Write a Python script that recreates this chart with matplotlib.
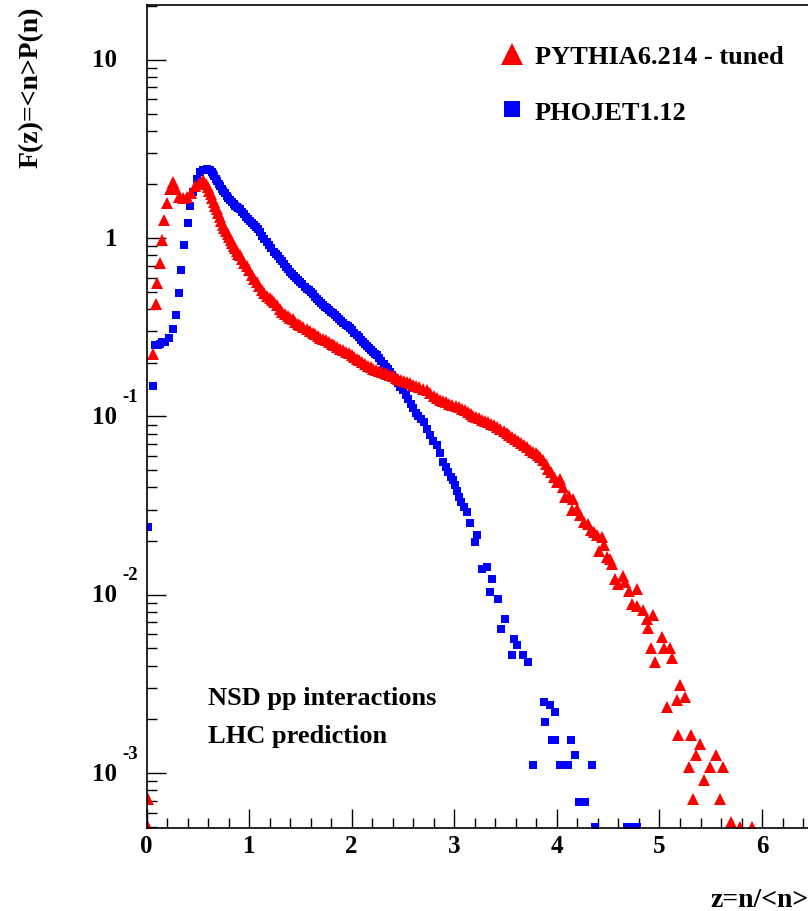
import matplotlib
matplotlib.use("Agg")
import matplotlib.pyplot as plt
from matplotlib.ticker import MultipleLocator, LogLocator, NullFormatter
from matplotlib.transforms import offset_copy

plt.rcParams["font.family"] = ["Liberation Serif", "DejaVu Serif"]
plt.rcParams["font.weight"] = "bold"

# PYTHIA6.214 - tuned (red triangles)
pythia_z = [
    0.015, 0.015, 0.066, 0.09, 0.105, 0.13, 0.154, 0.173, 0.197, 0.229,
    0.261, 0.288, 0.32, 0.359, 0.392, 0.43, 0.47, 0.51, 0.55, 0.58,
    0.595, 0.61, 0.625, 0.64, 0.655, 0.67, 0.685, 0.70, 0.715, 0.73,
    0.745, 0.76, 0.775, 0.79, 0.805, 0.82, 0.835, 0.85, 0.865, 0.88,
    0.895, 0.91, 0.93, 0.95, 0.975, 1.0, 1.025, 1.05, 1.075, 1.10,
    1.125, 1.15, 1.175, 1.20, 1.22, 1.24, 1.27, 1.30, 1.325, 1.35,
    1.375, 1.40, 1.425, 1.45, 1.475, 1.50, 1.53, 1.56, 1.59, 1.62,
    1.645, 1.67, 1.695, 1.72, 1.75, 1.78, 1.805, 1.83, 1.86, 1.89,
    1.915, 1.94, 1.97, 2.0, 2.025, 2.05, 2.075, 2.10, 2.13, 2.16,
    2.185, 2.21, 2.24, 2.27, 2.295, 2.32, 2.345, 2.37, 2.40, 2.43,
    2.455, 2.48, 2.51, 2.54, 2.57, 2.60, 2.63, 2.66, 2.695, 2.73,
    2.765, 2.80, 2.83, 2.86, 2.89, 2.92, 2.95, 2.98, 3.015, 3.05,
    3.075, 3.10, 3.13, 3.16, 3.185, 3.21, 3.24, 3.27, 3.30, 3.33,
    3.36, 3.39, 3.42, 3.45, 3.48, 3.51, 3.535, 3.56, 3.59, 3.62,
    3.65, 3.68, 3.71, 3.74, 3.77, 3.80, 3.82, 3.84, 3.865, 3.89,
    3.915, 3.94, 3.97, 4.0, 4.03, 4.06, 4.08, 4.12, 4.16, 4.15,
    4.20, 4.23, 4.26, 4.30, 4.33, 4.36, 4.39, 4.44, 4.46, 4.41,
    4.49, 4.52, 4.54, 4.57, 4.64, 4.60, 4.66, 4.70, 4.78, 4.73,
    4.78, 4.84, 4.94, 4.875, 4.89, 4.92, 4.956, 5.02, 5.04, 5.10,
    5.12, 5.20, 5.17, 5.25, 5.07, 5.18, 5.31, 5.39, 5.36, 5.55,
    5.29, 5.49, 5.62, 5.43, 5.33, 5.59, 5.70, 5.78, 5.90,
]
pythia_f = [
    0.00072, 0.0005, 0.225, 0.425, 0.56, 0.73, 0.97, 1.27, 1.58, 1.88,
    2.07, 1.88, 1.70, 1.67, 1.70, 1.80, 1.95, 2.05, 2.12, 2.0,
    1.93, 1.85, 1.76, 1.68, 1.60, 1.52, 1.45, 1.38, 1.31, 1.25,
    1.19, 1.14, 1.10, 1.05, 1.01, 0.97, 0.935, 0.90, 0.875, 0.85,
    0.82, 0.80, 0.765, 0.73, 0.70, 0.66, 0.625, 0.59, 0.565, 0.54,
    0.515, 0.49, 0.475, 0.46, 0.45, 0.44, 0.42, 0.40, 0.385, 0.375,
    0.365, 0.355, 0.35, 0.34, 0.33, 0.325, 0.318, 0.31, 0.302, 0.295,
    0.29, 0.283, 0.277, 0.273, 0.268, 0.262, 0.256, 0.25, 0.245, 0.24,
    0.235, 0.23, 0.226, 0.22, 0.215, 0.211, 0.207, 0.203, 0.198, 0.193,
    0.19, 0.185, 0.183, 0.18, 0.177, 0.175, 0.172, 0.17, 0.168, 0.165,
    0.162, 0.16, 0.158, 0.156, 0.154, 0.151, 0.149, 0.146, 0.143, 0.14,
    0.135, 0.131, 0.127, 0.123, 0.122, 0.12, 0.118, 0.116, 0.115, 0.113,
    0.11, 0.108, 0.106, 0.103, 0.101, 0.099, 0.0975, 0.096, 0.0945, 0.093,
    0.091, 0.089, 0.087, 0.0855, 0.083, 0.081, 0.079, 0.077, 0.075, 0.073,
    0.071, 0.069, 0.067, 0.065, 0.0635, 0.062, 0.0605, 0.0593, 0.057, 0.0543,
    0.051, 0.0488, 0.046, 0.0429, 0.0448, 0.040, 0.0354, 0.036, 0.0346, 0.0297,
    0.0304, 0.028, 0.0256, 0.025, 0.023, 0.0225, 0.0215, 0.0211, 0.0189, 0.0177,
    0.0163, 0.0158, 0.0149, 0.0123, 0.0128, 0.0115, 0.0118, 0.0105, 0.0108, 0.0089,
    0.0087, 0.0082, 0.0077, 0.0073, 0.0065, 0.0050, 0.0042, 0.0058, 0.0050, 0.0050,
    0.0044, 0.0031, 0.00256, 0.00267, 0.00235, 0.00163, 0.00163, 0.00146, 0.00126, 0.00126,
    0.00108, 0.00108, 0.00108, 0.00091, 0.00072, 0.00072, 0.00053, 0.0005, 0.0005,
]

# PHOJET1.12 (blue squares)
phojet_z = [
    0.015, 0.06, 0.083, 0.11, 0.132, 0.155, 0.18, 0.222, 0.255, 0.288,
    0.317, 0.339, 0.368, 0.407, 0.424, 0.456, 0.489, 0.52, 0.555, 0.587,
    0.615, 0.635, 0.648, 0.66, 0.675, 0.69, 0.705, 0.72, 0.735, 0.75,
    0.765, 0.78, 0.795, 0.81, 0.83, 0.85, 0.865, 0.88, 0.895, 0.91,
    0.93, 0.95, 0.97, 0.99, 1.01, 1.03, 1.05, 1.07, 1.09, 1.11,
    1.13, 1.15, 1.17, 1.19, 1.215, 1.24, 1.26, 1.28, 1.30, 1.32,
    1.34, 1.36, 1.38, 1.40, 1.42, 1.44, 1.46, 1.48, 1.50, 1.52,
    1.54, 1.56, 1.58, 1.60, 1.62, 1.64, 1.66, 1.68, 1.70, 1.72,
    1.74, 1.76, 1.78, 1.80, 1.82, 1.84, 1.86, 1.88, 1.90, 1.92,
    1.94, 1.96, 1.98, 2.0, 2.025, 2.05, 2.07, 2.09, 2.11, 2.13,
    2.15, 2.17, 2.19, 2.21, 2.23, 2.25, 2.27, 2.29, 2.31, 2.33,
    2.35, 2.37, 2.39, 2.41, 2.43, 2.45, 2.475, 2.50, 2.525, 2.55,
    2.575, 2.60, 2.625, 2.65, 2.675, 2.70, 2.73, 2.76, 2.795, 2.83,
    2.86, 2.89, 2.915, 2.94, 2.965, 2.99, 3.01, 3.03, 3.05, 3.07,
    3.095, 3.12, 3.15, 3.20, 3.22, 3.27, 3.32, 3.35, 3.37, 3.43,
    3.46, 3.49, 3.56, 3.58, 3.61, 3.67, 3.72, 3.77, 3.87, 3.88,
    3.93, 3.95, 3.98, 3.98, 4.03, 4.11, 4.14, 4.18, 4.22, 4.27,
    4.34, 4.37, 4.68, 4.73, 4.78,
]
phojet_f = [
    0.024, 0.148, 0.25, 0.252, 0.256, 0.26, 0.263, 0.277, 0.31, 0.372,
    0.494, 0.66, 0.92, 1.22, 1.51, 1.82, 2.16, 2.35, 2.42, 2.45,
    2.42, 2.35, 2.29, 2.22, 2.15, 2.08, 2.01, 1.95, 1.89, 1.83,
    1.78, 1.73, 1.68, 1.64, 1.60, 1.55, 1.52, 1.50, 1.475, 1.45,
    1.40, 1.36, 1.32, 1.28, 1.25, 1.22, 1.19, 1.16, 1.12, 1.08,
    1.03, 0.99, 0.955, 0.92, 0.88, 0.84, 0.815, 0.79, 0.765, 0.74,
    0.715, 0.69, 0.67, 0.646, 0.63, 0.615, 0.60, 0.58, 0.565, 0.55,
    0.535, 0.521, 0.51, 0.496, 0.483, 0.47, 0.458, 0.445, 0.432, 0.42,
    0.412, 0.405, 0.395, 0.385, 0.378, 0.37, 0.36, 0.352, 0.343, 0.335,
    0.327, 0.32, 0.312, 0.305, 0.295, 0.285, 0.278, 0.27, 0.262, 0.255,
    0.248, 0.242, 0.236, 0.23, 0.225, 0.22, 0.212, 0.205, 0.197, 0.19,
    0.184, 0.178, 0.171, 0.165, 0.16, 0.155, 0.147, 0.14, 0.132, 0.125,
    0.118, 0.111, 0.105, 0.10, 0.097, 0.093, 0.085, 0.0783, 0.073, 0.0688,
    0.062, 0.0558, 0.052, 0.049, 0.046, 0.0438, 0.041, 0.038, 0.0355, 0.0331,
    0.031, 0.0291, 0.0251, 0.0198, 0.0215, 0.014, 0.0143, 0.0104, 0.0123, 0.0095,
    0.00646, 0.00735, 0.00457, 0.00568, 0.0052, 0.00457, 0.0042, 0.00111, 0.0025, 0.00194,
    0.0024, 0.00153, 0.0022, 0.00153, 0.00111, 0.00111, 0.00153, 0.00126, 0.00069, 0.00069,
    0.00111, 0.0005, 0.0005, 0.0005, 0.0005,
]

y_ticks = [1e-3, 1e-2, 1e-1, 1, 10]
y_bases = ["10", "10", "10", "1", "10"]
y_exps = ["-3", "-2", "-1", "", ""]
x_ticks = [0, 1, 2, 3, 4, 5, 6]

W, H = 808, 912
fig = plt.figure(figsize=(W / 100, H / 100), dpi=100)
ax = fig.add_axes([146.5 / W, (H - 829) / H, 7 * 102.6 / W, 823 / H])

ax.plot(phojet_z, phojet_f, "s", color="#0000ff", ms=6.4, mew=0,
        label="PHOJET1.12")
ax.plot(pythia_z, pythia_f, "^", color="#ff0000", ms=8, mew=0,
        label="PYTHIA6.214 - tuned")

ax.set_yscale("log")
ax.set_xlim(0, 7)
ax.set_ylim(4.92e-4, 20.3)

for s in ["left", "bottom", "top", "right"]:
    ax.spines[s].set_linewidth(1.2)

ax.xaxis.set_minor_locator(MultipleLocator(0.2))
ax.set_xticks(x_ticks)
ax.set_xticklabels([str(t) for t in x_ticks])
ax.yaxis.set_minor_locator(LogLocator(base=10, subs=range(2, 10)))
ax.set_yticks(y_ticks)
ax.yaxis.set_major_formatter(NullFormatter())
ax.yaxis.set_minor_formatter(NullFormatter())
ax.tick_params(which="both", direction="in", top=False, right=False, width=1)
ax.tick_params(which="major", length=14)
ax.tick_params(which="minor", length=7.5)
ax.tick_params(axis="x", labelsize=18, pad=4)

# ROOT-style y tick labels: base and raised exponent
base_tr = offset_copy(ax.get_yaxis_transform(), fig=fig, x=-29, y=0, units="dots")
exp_tr = offset_copy(ax.get_yaxis_transform(), fig=fig, x=-24, y=20, units="dots")
for v, b, e in zip(y_ticks, y_bases, y_exps):
    ax.text(0, v, b, transform=base_tr, ha="right", va="center", fontsize=18,
            fontweight="bold", clip_on=False)
    if e:
        ax.text(0, v, e, transform=exp_tr, ha="left", va="center", fontsize=13.5,
                fontweight="bold", clip_on=False)

handles, labels = ax.get_legend_handles_labels()
ax.legend(handles[::-1], labels[::-1], loc="upper left", frameon=False,
          bbox_to_anchor=(501 / W, 1 - 46 / H), bbox_transform=fig.transFigure,
          fontsize=19, markerscale=1.9, handlelength=0.8, handletextpad=0.47,
          labelspacing=1.2, borderpad=0, borderaxespad=0)

fig.text(208 / W, 1 - 705 / H, "NSD pp interactions", fontsize=19,
         fontweight="bold", va="baseline")
fig.text(208 / W, 1 - 743 / H, "LHC prediction", fontsize=19,
         fontweight="bold", va="baseline")

fig.text(31 / W, 1 - 7 / H, "F(z)=<n>P(n)", rotation=90, fontsize=20,
         fontweight="bold", ha="center", va="top")
fig.text(710 / W, 1 - 907 / H, "z=n/<n>", fontsize=20, fontweight="bold",
         ha="left", va="baseline")

fig.savefig("out.png", dpi=100)
